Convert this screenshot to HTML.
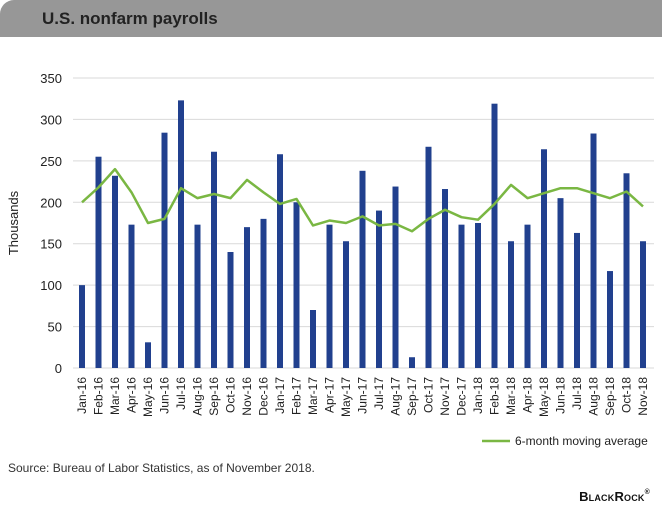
<!DOCTYPE html>
<html><head><meta charset="utf-8"><style>
body{margin:0;width:662px;height:522px;background:#fff;font-family:"Liberation Sans",sans-serif;overflow:hidden;position:relative}
.hdr{position:absolute;left:0;top:0;width:662px;height:37px;background:#979797;border-top-left-radius:14px}
.hdr span{position:absolute;left:42px;top:9px;color:#222;font-size:17px;font-weight:bold}
.src{position:absolute;left:8px;top:461px;font-size:12px;color:#333}
.logo{position:absolute;right:12px;top:489px;font-size:13px;font-weight:bold;color:#111;font-variant:small-caps;letter-spacing:0.2px}
</style></head><body>
<div class="hdr"><span>U.S. nonfarm payrolls</span></div>
<svg id="c" width="662" height="522" style="position:absolute;left:0;top:0"></svg>
<div class="src">Source: Bureau of Labor Statistics, as of November 2018.</div>
<div class="logo">BlackRock<span style="font-size:7px;vertical-align:top">®</span></div>
<script>
const categories=["Jan-16","Feb-16","Mar-16","Apr-16","May-16","Jun-16","Jul-16","Aug-16","Sep-16","Oct-16","Nov-16","Dec-16","Jan-17","Feb-17","Mar-17","Apr-17","May-17","Jun-17","Jul-17","Aug-17","Sep-17","Oct-17","Nov-17","Dec-17","Jan-18","Feb-18","Mar-18","Apr-18","May-18","Jun-18","Jul-18","Aug-18","Sep-18","Oct-18","Nov-18"];
const payrolls=[100,255,232,173,31,284,323,173,261,140,170,180,258,200,70,173,153,238,190,219,13,267,216,173,175,319,153,173,264,205,163,283,117,235,153];
const movingAvg=[200,218,240,212,175,180,217,205,210,205,227,212,198,204,172,178,175,183,172,174,165,180,191,182,179,198,221,205,211,217,217,211,205,213,195];
const yTicks=[0,50,100,150,200,250,300,350];
const NS="http://www.w3.org/2000/svg",svg=document.getElementById('c');
const y0=368,yTop=78,x0=82,dx=(643-82)/34;
const y=v=>y0-(v/350)*(y0-yTop);
const x=i=>x0+i*dx;
function mk(t,a){const e=document.createElementNS(NS,t);for(const k in a)e.setAttribute(k,a[k]);svg.appendChild(e);return e;}
yTicks.forEach(t=>{
 const g=mk('line',{x1:73,x2:654,y1:y(t),y2:y(t),stroke:'#d9d9d9','stroke-width':1});
 
 
 const l=mk('text',{x:62,y:y(t)+5,'text-anchor':'end','font-size':13,fill:'#222'});l.textContent=t;
 
 
});
const yt=mk('text',{x:18,y:223,'text-anchor':'middle','font-size':13,fill:'#222',transform:'rotate(-90 18 223)'});yt.textContent='Thousands';


payrolls.forEach((v,i)=>{
 const b=mk('rect',{x:x(i)-3,y:y(v),width:6,height:y0-y(v),fill:'#21408e'});
 
 
});
categories.forEach((c,i)=>{
 const t=mk('text',{x:x(i)+4,y:377,'text-anchor':'end','font-size':12,fill:'#222',transform:`rotate(-90 ${x(i)+4} 377)`});t.textContent=c;
 
 
});
const ln=mk('polyline',{points:movingAvg.map((v,i)=>x(i)+','+y(v)).join(' '),fill:'none',stroke:'#7ab743','stroke-width':2.5,'stroke-linejoin':'round'});


const ll=mk('line',{x1:482,x2:510,y1:441,y2:441,stroke:'#7ab743','stroke-width':2.5});


const lt=mk('text',{x:515,y:445,'font-size':12,fill:'#222'});lt.textContent='6-month moving average';


</script>
</body></html>
